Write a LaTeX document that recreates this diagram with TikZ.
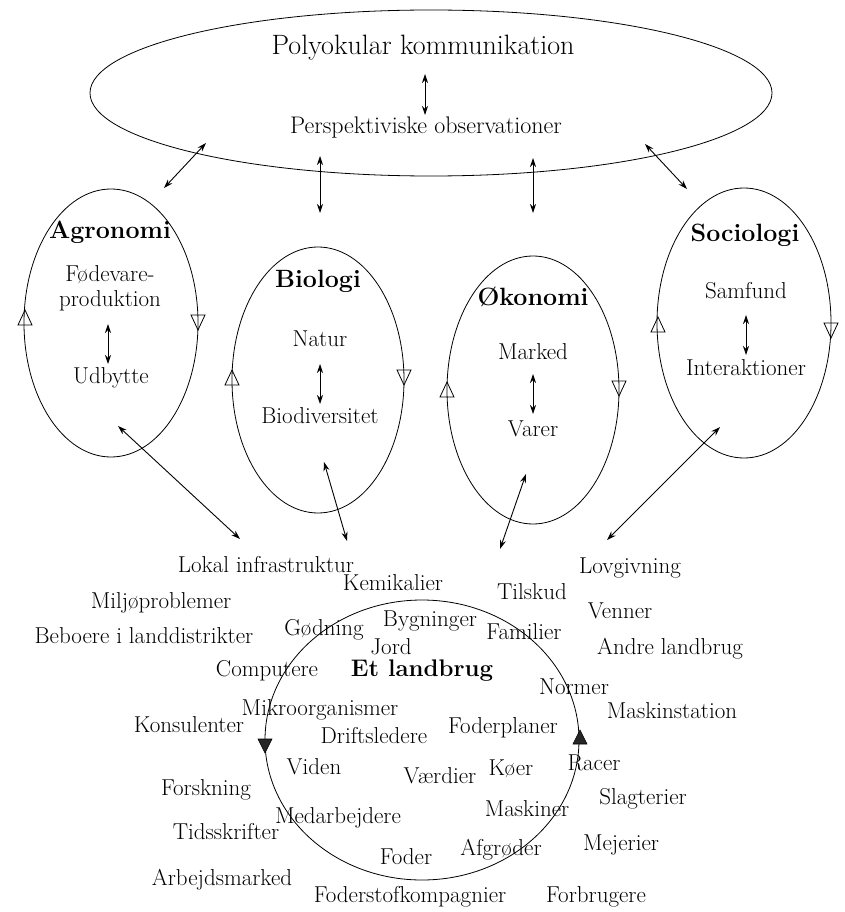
\documentclass[tikz,border=0pt]{standalone}
\usetikzlibrary{shapes.geometric,arrows.meta}
\begin{document}
\begin{tikzpicture}[x=1pt,y=-1pt,
  lbl/.style={inner sep=0pt,font=\fontsize{23}{25}\selectfont,text height=0.7em,text depth=0.2em},
  head/.style={inner sep=0pt,font=\fontsize{25}{27}\selectfont\bfseries,text height=0.7em,text depth=0.2em},
  ring/.style={draw,ellipse,inner sep=0pt,line width=0.8pt},
  dbl/.style={{Stealth[length=9pt,width=6pt]}-{Stealth[length=9pt,width=6pt]},line width=0.9pt},
  otri/.style={draw,line width=0.8pt},
  ftri/.style={draw,fill=black!85,line width=0.6pt}]
\useasboundingbox (0,0) rectangle (844,912);
% top ellipse
\node[ring,minimum width=682pt,minimum height=166pt] (top) at (431,93) {};
\node[lbl,font=\fontsize{28}{30}\selectfont] (poly) at (423,52) {Polyokular kommunikation};
\node[lbl,font=\fontsize{24}{26}\selectfont] (persp) at (426,131) {Perspektiviske observationer};
\coordinate (pa) at (425,74); \coordinate (pb) at (425,115);
\draw[dbl] (pa) -- (pb);
% subject ellipses
\node[ring,minimum width=174pt,minimum height=268pt] (agro) at (111,323) {};
\node[ring,minimum width=172pt,minimum height=266pt] (bio) at (318,380) {};
\node[ring,minimum width=172pt,minimum height=268pt] (oko) at (533,390) {};
\node[ring,minimum width=174pt,minimum height=270pt] (soc) at (744,323) {};
% open triangles
\draw[otri] (25,310) -- ++(7,15) -- ++(-14,0) -- cycle;
\draw[otri] (198,330) -- ++(7,-15) -- ++(-14,0) -- cycle;
\draw[otri] (232,370) -- ++(7,15) -- ++(-14,0) -- cycle;
\draw[otri] (404,385) -- ++(7,-15) -- ++(-14,0) -- cycle;
\draw[otri] (447,382) -- ++(7,15) -- ++(-14,0) -- cycle;
\draw[otri] (619,396) -- ++(7,-15) -- ++(-14,0) -- cycle;
\draw[otri] (658,317) -- ++(7,15) -- ++(-14,0) -- cycle;
\draw[otri] (831,338) -- ++(7,-15) -- ++(-14,0) -- cycle;
% texts in ellipses
\node[head] (agroh) at (110,236) {Agronomi};
\node[lbl] (agro1) at (110,279) {Fødevare-};
\node[lbl] (agro2) at (110,304) {produktion};
\node[lbl] (agro3) at (111,381) {Udbytte};
\coordinate (aa) at (108,324); \coordinate (ab) at (108,364);
\draw[dbl] (aa) -- (ab);
\node[head] (bioh) at (318,285) {Biologi};
\node[lbl] (bio1) at (320,344) {Natur};
\node[lbl] (bio2) at (320,421) {Biodiversitet};
\coordinate (ba) at (320,364); \coordinate (bb) at (320,404);
\draw[dbl] (ba) -- (bb);
\node[head] (okoh) at (533,303) {Økonomi};
\node[lbl] (oko1) at (533,357) {Marked};
\node[lbl] (oko2) at (533,434) {Varer};
\coordinate (oa) at (533,374); \coordinate (ob) at (533,414);
\draw[dbl] (oa) -- (ob);
\node[head] (soch) at (745,239) {Sociologi};
\node[lbl] (soc1) at (746,296) {Samfund};
\node[lbl] (soc2) at (746,373) {Interaktioner};
\coordinate (sa) at (746,315); \coordinate (sb) at (746,355);
\draw[dbl] (sa) -- (sb);
% arrows top ellipse to subjects
\coordinate (t1) at (206,143); \coordinate (t1b) at (164,188);
\coordinate (t2) at (320,156); \coordinate (t2b) at (320,213);
\coordinate (t3) at (533,158); \coordinate (t3b) at (533,213);
\coordinate (t4) at (645,144); \coordinate (t4b) at (687,189);
\draw[dbl] (t1) -- (t1b);
\draw[dbl] (t2) -- (t2b);
\draw[dbl] (t3) -- (t3b);
\draw[dbl] (t4) -- (t4b);
% arrows subjects to farm
\coordinate (l1) at (118,426); \coordinate (l1b) at (240,539);
\coordinate (l2) at (324,462); \coordinate (l2b) at (347,541);
\coordinate (l3) at (526,474); \coordinate (l3b) at (500,549);
\coordinate (l4) at (720,427); \coordinate (l4b) at (607,540);
\draw[dbl] (l1) -- (l1b);
\draw[dbl] (l2) -- (l2b);
\draw[dbl] (l3) -- (l3b);
\draw[dbl] (l4) -- (l4b);
% farm circle
\node[ring,minimum width=314pt,minimum height=280pt] (farm) at (422,740) {};
\draw[ftri] (265,753) -- ++(7,-14) -- ++(-14,0) -- cycle;
\draw[ftri] (580,730) -- ++(7,14) -- ++(-14,0) -- cycle;
\node[head,font=\fontsize{24}{26}\selectfont\bfseries] (farmh) at (422,674) {Et landbrug};
% words
\node[lbl] (w1) at (266,570) {Lokal infrastruktur};
\node[lbl] (w2) at (393,588) {Kemikalier};
\node[lbl] (w3) at (161,606) {Miljøproblemer};
\node[lbl] (w4) at (144,641) {Beboere i landdistrikter};
\node[lbl] (w5) at (324,633) {Gødning};
\node[lbl] (w6) at (430,624) {Bygninger};
\node[lbl] (w7) at (391,652) {Jord};
\node[lbl] (w8) at (267,674) {Computere};
\node[lbl] (w9) at (320,713) {Mikroorganismer};
\node[lbl] (w10) at (189,730) {Konsulenter};
\node[lbl] (w11) at (374,741) {Driftsledere};
\node[lbl] (w12) at (314,772) {Viden};
\node[lbl] (w13) at (440,781) {Værdier};
\node[lbl] (w14) at (206,793) {Forskning};
\node[lbl] (w15) at (338,821) {Medarbejdere};
\node[lbl] (w16) at (226,837) {Tidsskrifter};
\node[lbl] (w17) at (406,862) {Foder};
\node[lbl] (w18) at (222,883) {Arbejdsmarked};
\node[lbl] (w19) at (410,900) {Foderstofkompagnier};
\node[lbl] (w20) at (630,571) {Lovgivning};
\node[lbl] (w21) at (532,597) {Tilskud};
\node[lbl] (w22) at (620,616) {Venner};
\node[lbl] (w23) at (524,637) {Familier};
\node[lbl] (w24) at (670,652) {Andre landbrug};
\node[lbl] (w25) at (574,692) {Normer};
\node[lbl] (w26) at (672,716) {Maskinstation};
\node[lbl] (w27) at (503,731) {Foderplaner};
\node[lbl] (w28) at (594,768) {Racer};
\node[lbl] (w29) at (511,773) {Køer};
\node[lbl] (w30) at (643,802) {Slagterier};
\node[lbl] (w31) at (527,814) {Maskiner};
\node[lbl] (w32) at (621,848) {Mejerier};
\node[lbl] (w33) at (501,853) {Afgrøder};
\node[lbl] (w34) at (596,900) {Forbrugere};
\end{tikzpicture}
\end{document}
